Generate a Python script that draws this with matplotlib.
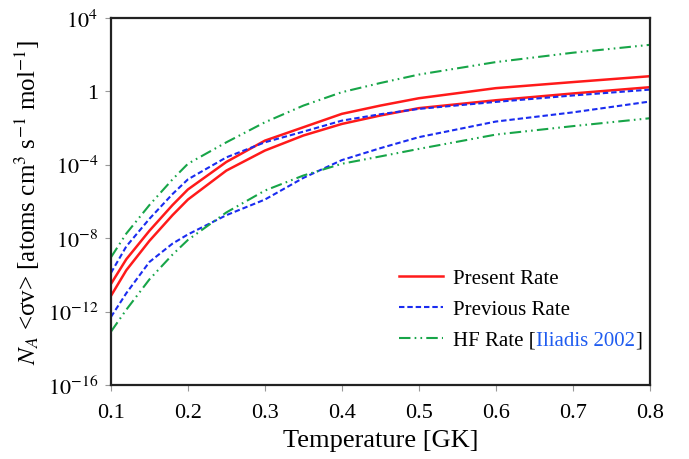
import matplotlib
matplotlib.use("Agg")
import matplotlib.pyplot as plt
import numpy as np
from matplotlib.ticker import FixedLocator, FuncFormatter

plt.rcParams["font.family"] = ["Liberation Serif", "DejaVu Serif"]
plt.rcParams["mathtext.fontset"] = "stix"

# ---------------------------------------------------------------------------
# Data: temperature grid (GK) and log10 of the rate bounds
# ---------------------------------------------------------------------------
temperature = [0.1, 0.12, 0.15, 0.18, 0.2, 0.25, 0.3, 0.35, 0.4, 0.45, 0.5, 0.6, 0.7, 0.8]

present_hi = [-10.5, -9.15, -7.6, -6.2, -5.35, -3.85, -2.69, -1.96, -1.23, -0.78, -0.38, 0.17, 0.5, 0.82]
present_lo = [-11.15, -9.75, -8.15, -6.75, -5.9, -4.32, -3.23, -2.41, -1.78, -1.32, -0.92, -0.49, -0.12, 0.22]
previous_hi = [-9.9, -8.45, -6.95, -5.6, -4.8, -3.6, -2.78, -2.2, -1.6, -1.25, -0.96, -0.58, -0.23, 0.09]
previous_lo = [-12.3, -11.0, -9.3, -8.3, -7.8, -6.75, -5.9, -4.72, -3.75, -3.1, -2.5, -1.65, -1.15, -0.56]
hf_hi = [-9.05, -7.75, -6.2, -4.8, -3.95, -2.78, -1.69, -0.78, -0.05, 0.45, 0.91, 1.59, 2.1, 2.53]
hf_lo = [-13.1, -11.9, -10.25, -8.9, -8.1, -6.6, -5.41, -4.59, -3.95, -3.55, -3.14, -2.36, -1.9, -1.47]

y_tick_exp = [-16, -12, -8, -4, 0, 4]
x_ticks = [0.1, 0.2, 0.3, 0.4, 0.5, 0.6, 0.7, 0.8]

COL_PRESENT = "#ff1a1a"
COL_PREVIOUS = "#1a2cf0"
COL_HF = "#17a548"

fig = plt.figure(figsize=(6.89, 4.60), dpi=100)
ax = fig.add_axes([0.161, 0.161, 0.782, 0.798])

T = np.array(temperature)
ls_prev = (0, (2.6, 1.4))
ls_hf = (0, (5.5, 2.0, 0.8, 2.0, 0.8, 2.0))

ax.plot(T, np.power(10.0, present_hi), color=COL_PRESENT, lw=1.8, label="Present Rate")
ax.plot(T, np.power(10.0, present_lo), color=COL_PRESENT, lw=1.8)
ax.plot(T, np.power(10.0, previous_hi), color=COL_PREVIOUS, lw=1.5, ls=ls_prev, label="Previous Rate")
ax.plot(T, np.power(10.0, previous_lo), color=COL_PREVIOUS, lw=1.5, ls=ls_prev)
ax.plot(T, np.power(10.0, hf_hi), color=COL_HF, lw=1.5, ls=ls_hf, label="HF Rate [")
ax.plot(T, np.power(10.0, hf_lo), color=COL_HF, lw=1.5, ls=ls_hf)

ax.set_yscale("log")
ax.set_xlim(0.1, 0.8)
ax.set_ylim(1e-16, 1e4)

ax.yaxis.set_major_locator(FixedLocator([10.0 ** e for e in y_tick_exp]))
ax.yaxis.set_minor_locator(FixedLocator([]))
ax.yaxis.set_major_formatter(FuncFormatter(
    lambda v, p: "1" if abs(np.log10(v)) < 1e-9 else r"$10^{%d}$" % round(np.log10(v))))
ax.xaxis.set_major_locator(FixedLocator(x_ticks))
ax.xaxis.set_major_formatter(FuncFormatter(lambda v, p: f"{v:.1f}"))

ax.tick_params(direction="out", length=4, width=0.8, color="#999999",
               labelsize=16, pad=5)
ax.tick_params(axis="x", pad=9)
for sp in ax.spines.values():
    sp.set_linewidth(1.6)
    sp.set_color("#222222")

ax.set_xlabel("Temperature [GK]", fontsize=19, labelpad=5)
ax.set_ylabel(r"$N_A$ <σv> [atoms cm$^3$ s$^{-1}$ mol$^{-1}$]", fontsize=18, labelpad=4)

leg = ax.legend(loc="upper left", bbox_to_anchor=(0.535, 0.318), frameon=False,
                fontsize=15, handlelength=2.1, handletextpad=0.5,
                labelspacing=0.55, borderaxespad=0.0, borderpad=0.0)

# colour the citation inside the last legend label
fig.canvas.draw()
bb = leg.get_texts()[2].get_window_extent()
W, H = fig.bbox.width, fig.bbox.height
cite = fig.text(bb.x1 / W, bb.y0 / H, "Iliadis 2002", va="bottom", ha="left",
                fontsize=15, color="#1f5cf0")
fig.canvas.draw()
bb2 = cite.get_window_extent()
fig.text(bb2.x1 / W, bb2.y0 / H, "]", va="bottom", ha="left", fontsize=15, color="black")

fig.savefig("out.png", dpi=100)
